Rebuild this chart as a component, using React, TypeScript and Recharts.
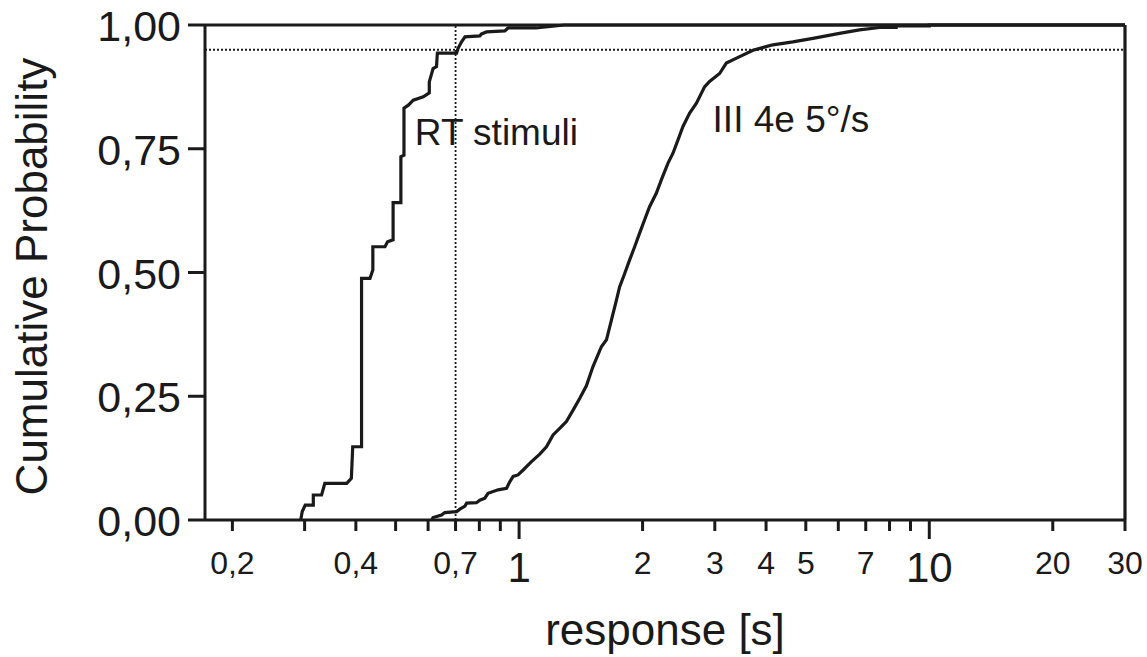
import React from 'react';
import { LineChart, Line, XAxis, YAxis, ReferenceLine, ReferenceDot } from 'recharts';

// RT stimuli cumulative distribution (response in s, cumulative probability)
const rtX = [0.2935, 0.296, 0.301, 0.315, 0.315, 0.33, 0.336, 0.38, 0.39, 0.393, 0.413, 0.413, 0.433, 0.44, 0.44, 0.471, 0.478, 0.493, 0.493, 0.515, 0.515, 0.524, 0.524, 0.537, 0.552, 0.584, 0.604, 0.604, 0.617, 0.629, 0.632, 0.704, 0.71, 0.724, 0.738, 0.802, 0.81, 0.833, 0.923, 0.94, 1.1, 1.29, 30];
const rtY = [0, 0.017, 0.03, 0.03, 0.0505, 0.0505, 0.074, 0.074, 0.084, 0.148, 0.148, 0.488, 0.488, 0.505, 0.552, 0.552, 0.562, 0.566, 0.641, 0.641, 0.734, 0.737, 0.832, 0.838, 0.848, 0.855, 0.863, 0.885, 0.912, 0.916, 0.943, 0.943, 0.953, 0.966, 0.976, 0.978, 0.982, 0.986, 0.988, 0.994, 0.994, 1, 1];

// III 4e 5°/s cumulative distribution
const iiiX = [0.612, 0.617, 0.647, 0.659, 0.704, 0.717, 0.738, 0.745, 0.787, 0.802, 0.825, 0.84, 0.889, 0.932, 0.949, 0.967, 0.994, 1.023, 1.072, 1.123, 1.166, 1.21, 1.256, 1.304, 1.354, 1.406, 1.459, 1.514, 1.587, 1.633, 1.679, 1.727, 1.758, 1.809, 1.859, 1.913, 1.966, 2.022, 2.08, 2.16, 2.222, 2.307, 2.372, 2.44, 2.509, 2.605, 2.706, 2.832, 2.913, 3.082, 3.2, 3.449, 3.717, 4.156, 4.65, 5.204, 6.04, 6.76, 7.57, 8.3, 8.3, 10, 10, 30];
const iiiY = [0, 0.005, 0.01, 0.015, 0.017, 0.022, 0.028, 0.034, 0.035, 0.04, 0.044, 0.054, 0.061, 0.064, 0.077, 0.088, 0.091, 0.101, 0.118, 0.133, 0.148, 0.172, 0.185, 0.199, 0.222, 0.246, 0.271, 0.31, 0.35, 0.364, 0.404, 0.444, 0.471, 0.498, 0.525, 0.552, 0.579, 0.606, 0.633, 0.66, 0.687, 0.721, 0.741, 0.768, 0.795, 0.822, 0.842, 0.875, 0.886, 0.902, 0.923, 0.936, 0.949, 0.96, 0.966, 0.973, 0.983, 0.99, 0.995, 0.995, 0.998, 0.998, 1, 1];

const xTicks = [0.2, 0.3, 0.4, 0.5, 0.6, 0.7, 0.8, 0.9, 1, 2, 3, 4, 5, 6, 7, 8, 9, 10, 20, 30];
const xTickLabels = ['0,2', '', '0,4', '', '', '0,7', '', '', '1', '2', '3', '4', '5', '', '7', '', '', '10', '20', '30'];
const bigXTicks = [1, 10];
const yTicks = [0, 0.25, 0.5, 0.75, 1];
const yTickLabels = ['0,00', '0,25', '0,50', '0,75', '1,00'];

const xDomain = [0.1715, 30];
const refX = 0.7;
const refY = 0.95;

const seriesLabels = [
  { name: 'RT stimuli', x: 0.557, y: 0.7576 },
  { name: 'III 4e 5°/s', x: 2.963, y: 0.7838 },
];

const rtData = rtX.map((x, i) => ({ x, y: rtY[i] }));
const iiiData = iiiX.map((x, i) => ({ x, y: iiiY[i] }));

const INK = '#1a1a1a';
const FONT = '"Liberation Sans", Arial, Helvetica, sans-serif';

const XTick = (props: any) => {
  const { x, y, payload } = props;
  const v = payload.value;
  const idx = xTicks.indexOf(v);
  const label = idx >= 0 ? xTickLabels[idx] : '';
  const big = bigXTicks.includes(v);
  return (
    <g>
      <line x1={x} x2={x} y1={y} y2={y + (big ? 19 : 11)} stroke={INK} strokeWidth={3} />
      {label ? (
        <text x={x} y={y + (big ? 62 : 53.5)} textAnchor="middle" fontSize={big ? 42 : 32} fill={INK} fontFamily={FONT}>
          {label}
        </text>
      ) : null}
    </g>
  );
};

const YTick = (props: any) => {
  const { x, y, payload } = props;
  const idx = yTicks.indexOf(payload.value);
  return (
    <g>
      <line x1={x - 17} x2={x} y1={y} y2={y} stroke={INK} strokeWidth={3} />
      <text x={x - 24} y={y + 16} textAnchor="end" fontSize={43} fill={INK} fontFamily={FONT}>
        {yTickLabels[idx]}
      </text>
    </g>
  );
};

const makeSeriesLabel = (text: string) => (p: any) => {
  const vb = p.viewBox || {};
  return (
    <text x={vb.x} y={vb.y} fontSize={37} fill={INK} fontFamily={FONT} textAnchor="start">
      {text}
    </text>
  );
};

const XTitle = (p: any) => {
  const vb = p.viewBox;
  return (
    <text x={vb.x + vb.width / 2} y={vb.y + 125} textAnchor="middle" fontSize={44} fill={INK} fontFamily={FONT}>
      response [s]
    </text>
  );
};

const YTitle = (p: any) => {
  const vb = p.viewBox;
  const cx = vb.x + 47;
  const cy = vb.y + vb.height / 2 + 4;
  return (
    <text x={cx} y={cy} transform={`rotate(-90 ${cx} ${cy})`} textAnchor="middle" fontSize={44} fill={INK} fontFamily={FONT}>
      Cumulative Probability
    </text>
  );
};

export default function App() {
  return (
    <div style={{ position: 'absolute', left: 0, top: 0, width: 1147, height: 657, background: '#fff' }}>
      <LineChart width={1147} height={657} margin={{ top: 25, right: 22, bottom: 0, left: 0 }}>
        <XAxis
          dataKey="x"
          type="number"
          scale="log"
          domain={xDomain}
          allowDataOverflow
          ticks={xTicks}
          interval={0}
          height={137}
          tickSize={0}
          tickMargin={0}
          tickLine={false}
          axisLine={{ stroke: INK, strokeWidth: 3 }}
          tick={<XTick />}
          label={{ content: XTitle }}
        />
        <YAxis
          dataKey="y"
          type="number"
          domain={[0, 1]}
          ticks={yTicks}
          interval={0}
          width={205}
          tickSize={0}
          tickMargin={0}
          tickLine={false}
          axisLine={{ stroke: INK, strokeWidth: 3 }}
          tick={<YTick />}
          label={{ content: YTitle }}
        />
        <ReferenceLine y={refY} stroke={INK} strokeWidth={1.8} strokeDasharray="2 2" />
        <ReferenceLine x={refX} stroke={INK} strokeWidth={1.8} strokeDasharray="2 2" />
        <Line data={rtData} dataKey="y" type="linear" stroke={INK} strokeWidth={3.2} dot={false} activeDot={false} isAnimationActive={false} />
        <Line data={iiiData} dataKey="y" type="linear" stroke={INK} strokeWidth={3.2} dot={false} activeDot={false} isAnimationActive={false} />
        <ReferenceLine y={1} stroke={INK} strokeWidth={3.2} />
        <ReferenceLine x={30} stroke={INK} strokeWidth={3.2} />
        {seriesLabels.map((s) => (
          <ReferenceDot key={s.name} x={s.x} y={s.y} r={0} fill="none" stroke="none" label={makeSeriesLabel(s.name)} />
        ))}
      </LineChart>
    </div>
  );
}
